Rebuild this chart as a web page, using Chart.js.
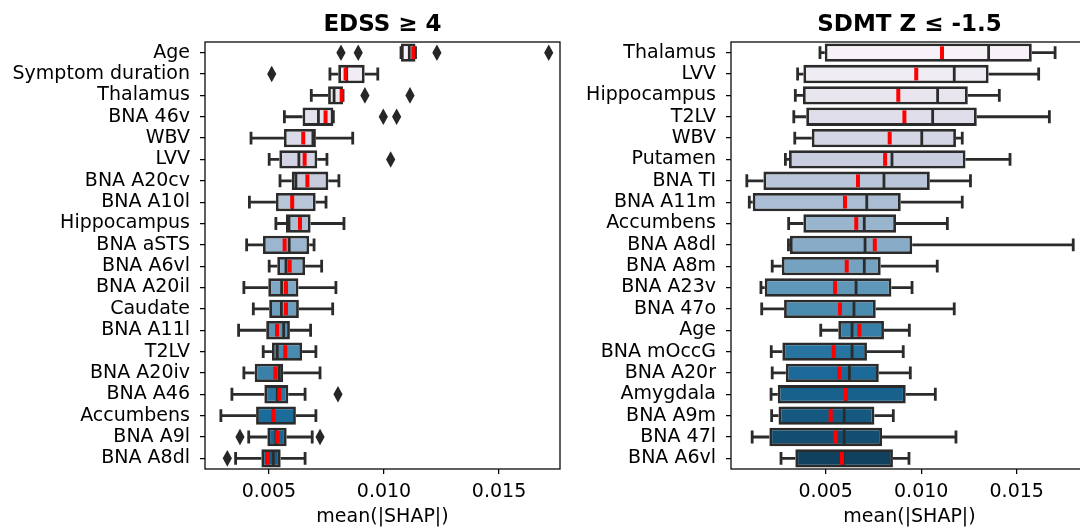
<!DOCTYPE html>
<html>
<head>
<meta charset="utf-8">
<script src="https://cdn.jsdelivr.net/npm/chart.js@4"></script>
<style>
  html, body { margin: 0; padding: 0; background: #fff; overflow: hidden; width: 1080px; height: 528px; }
  #left { position: absolute; left: 0; top: 0; }
  #right { position: absolute; left: 540px; top: 0; }
</style>
</head>
<body>
<canvas id="left" width="575" height="528"></canvas>
<canvas id="right" width="560" height="528"></canvas>
<script>
// ---- data: EDSS >= 4 ----
var edssLabels = ['Age', 'Symptom duration', 'Thalamus', 'BNA 46v', 'WBV', 'LVV', 'BNA A20cv', 'BNA A10l',
  'Hippocampus', 'BNA aSTS', 'BNA A6vl', 'BNA A20il', 'Caudate', 'BNA A11l', 'T2LV', 'BNA A20iv',
  'BNA A46', 'Accumbens', 'BNA A9l', 'BNA A8dl'];
var edssLow    = [0.01074, 0.00765, 0.00684, 0.00567, 0.00422, 0.00501, 0.00548, 0.00415, 0.00530, 0.00403,
  0.00501, 0.00391, 0.00432, 0.00368, 0.00475, 0.00391, 0.00339, 0.00291, 0.00412, 0.00355];
var edssQ1     = [0.01074, 0.00801, 0.00757, 0.00646, 0.00565, 0.00545, 0.00599, 0.00530, 0.00574, 0.00474,
  0.00536, 0.00497, 0.00501, 0.00488, 0.00513, 0.00438, 0.00480, 0.00444, 0.00493, 0.00467];
var edssMedian = [0.01110, 0.00838, 0.00783, 0.00715, 0.00691, 0.00630, 0.00617, 0.00601, 0.00587, 0.00588,
  0.00574, 0.00555, 0.00554, 0.00564, 0.00536, 0.00545, 0.00536, 0.00519, 0.00530, 0.00519];
var edssQ3     = [0.01137, 0.00916, 0.00822, 0.00780, 0.00704, 0.00710, 0.00758, 0.00703, 0.00681, 0.00675,
  0.00657, 0.00628, 0.00630, 0.00591, 0.00644, 0.00562, 0.00584, 0.00617, 0.00577, 0.00551];
var edssHigh   = [0.01137, 0.00973, 0.00822, 0.00780, 0.00864, 0.00752, 0.00804, 0.00748, 0.00826, 0.00696,
  0.00729, 0.00791, 0.00777, 0.00681, 0.00704, 0.00722, 0.00657, 0.00704, 0.00688, 0.00657];
var edssMean   = [0.01127, 0.00833, 0.00816, 0.00746, 0.00649, 0.00655, 0.00667, 0.00601, 0.00635, 0.00568,
  0.00590, 0.00574, 0.00574, 0.00535, 0.00571, 0.00528, 0.00545, 0.00519, 0.00536, 0.00494];
var edssOutliers = [[0.00813, 0.00888, 0.01230, 0.01716], [0.00512], [0.00917, 0.01113], [0.00997, 0.01055], [],
  [0.01029], [], [], [], [], [], [], [], [], [], [], [0.00800], [], [0.00374, 0.00722], [0.00319]];

// ---- data: SDMT Z <= -1.5 ----
var sdmtLabels = ['Thalamus', 'LVV', 'Hippocampus', 'T2LV', 'WBV', 'Putamen', 'BNA TI', 'BNA A11m', 'Accumbens',
  'BNA A8dl', 'BNA A8m', 'BNA A23v', 'BNA 47o', 'Age', 'BNA mOccG', 'BNA A20r', 'Amygdala', 'BNA A9m',
  'BNA 47l', 'BNA A6vl'];
var sdmtLow    = [0.00470, 0.00353, 0.00341, 0.00333, 0.00338, 0.00289, 0.00087, 0.00100, 0.00306, 0.00305,
  0.00220, 0.00161, 0.00165, 0.00474, 0.00215, 0.00220, 0.00214, 0.00217, 0.00115, 0.00266];
var sdmtQ1     = [0.00495, 0.00383, 0.00381, 0.00398, 0.00427, 0.00308, 0.00174, 0.00118, 0.00383, 0.00313,
  0.00270, 0.00181, 0.00282, 0.00566, 0.00273, 0.00291, 0.00249, 0.00253, 0.00205, 0.00341];
var sdmtMedian = [0.01353, 0.01173, 0.01086, 0.01060, 0.01003, 0.00847, 0.00805, 0.00715, 0.00702, 0.00706,
  0.00702, 0.00659, 0.00648, 0.00638, 0.00638, 0.00624, 0.00605, 0.00597, 0.00597, 0.00592];
var sdmtQ3     = [0.01579, 0.01353, 0.01244, 0.01291, 0.01182, 0.01232, 0.01045, 0.00893, 0.00868, 0.00953,
  0.00788, 0.00844, 0.00762, 0.00805, 0.00716, 0.00778, 0.00919, 0.00755, 0.00795, 0.00852];
var sdmtHigh   = [0.01701, 0.01615, 0.01409, 0.01671, 0.01215, 0.01465, 0.01258, 0.01215, 0.01137, 0.01796,
  0.01084, 0.00952, 0.01173, 0.00938, 0.00906, 0.00943, 0.01074, 0.00854, 0.01182, 0.00936];
var sdmtMean   = [0.01109, 0.00974, 0.00880, 0.00912, 0.00835, 0.00811, 0.00669, 0.00601, 0.00660, 0.00757,
  0.00610, 0.00549, 0.00575, 0.00676, 0.00542, 0.00570, 0.00605, 0.00526, 0.00552, 0.00585];
var sdmtOutliers = [[], [], [], [], [], [], [], [], [], [], [], [], [], [], [], [], [], [], [], []];

var xTicks = [0.005, 0.010, 0.015];

// ---- styles ----
var FONT = 'DejaVu Sans';
var EDGE = '#2b2b2b';
var PUBU = ['#fff7fb', '#ece7f2', '#d0d1e6', '#a6bddb', '#74a9cf', '#3690c0', '#0570b0', '#045a8d', '#023858'];

function hexRgb(h) { return [1, 3, 5].map(function (i) { return parseInt(h.substr(i, 2), 16); }); }
function pubu(t) {
  var s = t * (PUBU.length - 1);
  var i = Math.min(Math.floor(s), PUBU.length - 2), f = s - i;
  var a = hexRgb(PUBU[i]), b = hexRgb(PUBU[i + 1]);
  return a.map(function (v, k) { return v + (b[k] - v) * f; });
}
// seaborn style desaturation (keep hue + lightness, scale saturation)
function desat(c, p) {
  var l = (Math.max.apply(null, c) + Math.min.apply(null, c)) / 2;
  var o = c.map(function (v) { return Math.round(l + (v - l) * p); });
  return 'rgb(' + o.join(',') + ')';
}
function palette(n, t0, t1) {
  var out = [];
  for (var i = 0; i < n; i++) out.push(desat(pubu(t0 + (t1 - t0) * i / (n - 1)), 0.75));
  return out;
}

var boxExtras = {
  id: 'boxExtras',
  afterDatasetsDraw: function (chart, args, o) {
    var ctx = chart.ctx, area = chart.chartArea;
    var xs = chart.scales.x, ys = chart.scales.y;
    var bars = chart.getDatasetMeta(0).data;
    var px = function (v) { return xs.getPixelForValue(v); };
    ctx.save();
    ctx.beginPath();
    ctx.rect(area.left, area.top, area.width, area.height);
    ctx.clip();
    for (var i = 0; i < o.q1.length; i++) {
      var yc = ys.getPixelForValue(i);
      var h = bars[i].height / 2;
      var cap = h * 0.7;
      ctx.strokeStyle = EDGE;
      ctx.lineWidth = 2.8;
      ctx.beginPath();
      ctx.moveTo(px(o.low[i]), yc); ctx.lineTo(px(o.q1[i]), yc);
      ctx.moveTo(px(o.q3[i]), yc); ctx.lineTo(px(o.high[i]), yc);
      ctx.moveTo(px(o.low[i]), yc - cap); ctx.lineTo(px(o.low[i]), yc + cap);
      ctx.moveTo(px(o.high[i]), yc - cap); ctx.lineTo(px(o.high[i]), yc + cap);
      ctx.moveTo(px(o.median[i]), yc - h + 1); ctx.lineTo(px(o.median[i]), yc + h - 1);
      ctx.stroke();
      // mean
      ctx.strokeStyle = '#ff0000';
      ctx.lineWidth = 4;
      ctx.beginPath();
      ctx.moveTo(px(o.mean[i]), yc - h + 2.8); ctx.lineTo(px(o.mean[i]), yc + h - 2.8);
      ctx.stroke();
      // outliers (thin diamonds)
      ctx.fillStyle = '#262626';
      o.outliers[i].forEach(function (v) {
        var x = px(v);
        ctx.beginPath();
        ctx.moveTo(x, yc - 8.3); ctx.lineTo(x + 4.6, yc); ctx.lineTo(x, yc + 8.3); ctx.lineTo(x - 4.6, yc);
        ctx.closePath();
        ctx.fill();
      });
    }
    ctx.restore();
  },
  afterDraw: function (chart) {
    var ctx = chart.ctx, a = chart.chartArea;
    ctx.save();
    ctx.strokeStyle = '#000';
    ctx.lineWidth = 1.25;
    ctx.strokeRect(a.left, a.top, a.width, a.height);
    ctx.restore();
  }
};

function makeChart(id, title, labels, low, q1, median, q3, high, mean, outliers, colors, xmin, xmax, yWidth, padRight) {
  return new Chart(document.getElementById(id), {
    type: 'bar',
    data: {
      labels: labels,
      datasets: [{
        data: q1.map(function (v, i) { return [v, q3[i]]; }),
        backgroundColor: colors,
        borderColor: EDGE,
        borderWidth: 2.8,
        borderSkipped: false,
        barPercentage: 0.86,
        categoryPercentage: 1.0
      }]
    },
    options: {
      indexAxis: 'y',
      responsive: false,
      animation: false,
      layout: { padding: { left: 0, right: padRight, top: 0, bottom: 0 } },
      plugins: {
        legend: { display: false },
        tooltip: { enabled: false },
        title: {
          display: true,
          text: title,
          fullSize: false,
          color: '#000',
          font: { family: FONT, size: 23, weight: 'bold' },
          padding: { top: 11.5, bottom: 2.9 }
        },
        boxExtras: { low: low, q1: q1, median: median, q3: q3, high: high, mean: mean, outliers: outliers }
      },
      scales: {
        x: {
          type: 'linear',
          min: xmin,
          max: xmax,
          afterFit: function (s) { s.height = 59; },
          afterBuildTicks: function (s) { s.ticks = xTicks.map(function (v) { return { value: v }; }); },
          border: { display: false },
          grid: { drawOnChartArea: false, drawTicks: true, tickLength: 5, color: '#000', lineWidth: 1.25 },
          ticks: {
            color: '#000', padding: 7, maxRotation: 0,
            font: { family: FONT, size: 19 },
            callback: function (v) { return v.toFixed(3); }
          },
          title: { display: true, text: 'mean(|SHAP|)', color: '#000', padding: 0, font: { family: FONT, size: 19 } }
        },
        y: {
          afterFit: function (s) { s.width = yWidth; },
          border: { display: false },
          grid: { offset: false, drawOnChartArea: false, drawTicks: true, tickLength: 5, color: '#000', lineWidth: 1.25 },
          ticks: { color: '#000', padding: 10, autoSkip: false, font: { family: FONT, size: 19 } }
        }
      }
    },
    plugins: [boxExtras]
  });
}

makeChart('left', 'EDSS \u2265 4', edssLabels, edssLow, edssQ1, edssMedian, edssQ3, edssHigh, edssMean,
  edssOutliers, palette(20, 0.045, 0.83), 0.00222, 0.01765, 205, 15);
makeChart('right', 'SDMT Z \u2264 -1.5', sdmtLabels, sdmtLow, sdmtQ1, sdmtMedian, sdmtQ3, sdmtHigh, sdmtMean,
  sdmtOutliers, palette(20, 1 / 21, 20 / 21), 0.000042, 0.018733, 191, 12);
</script>
</body>
</html>
